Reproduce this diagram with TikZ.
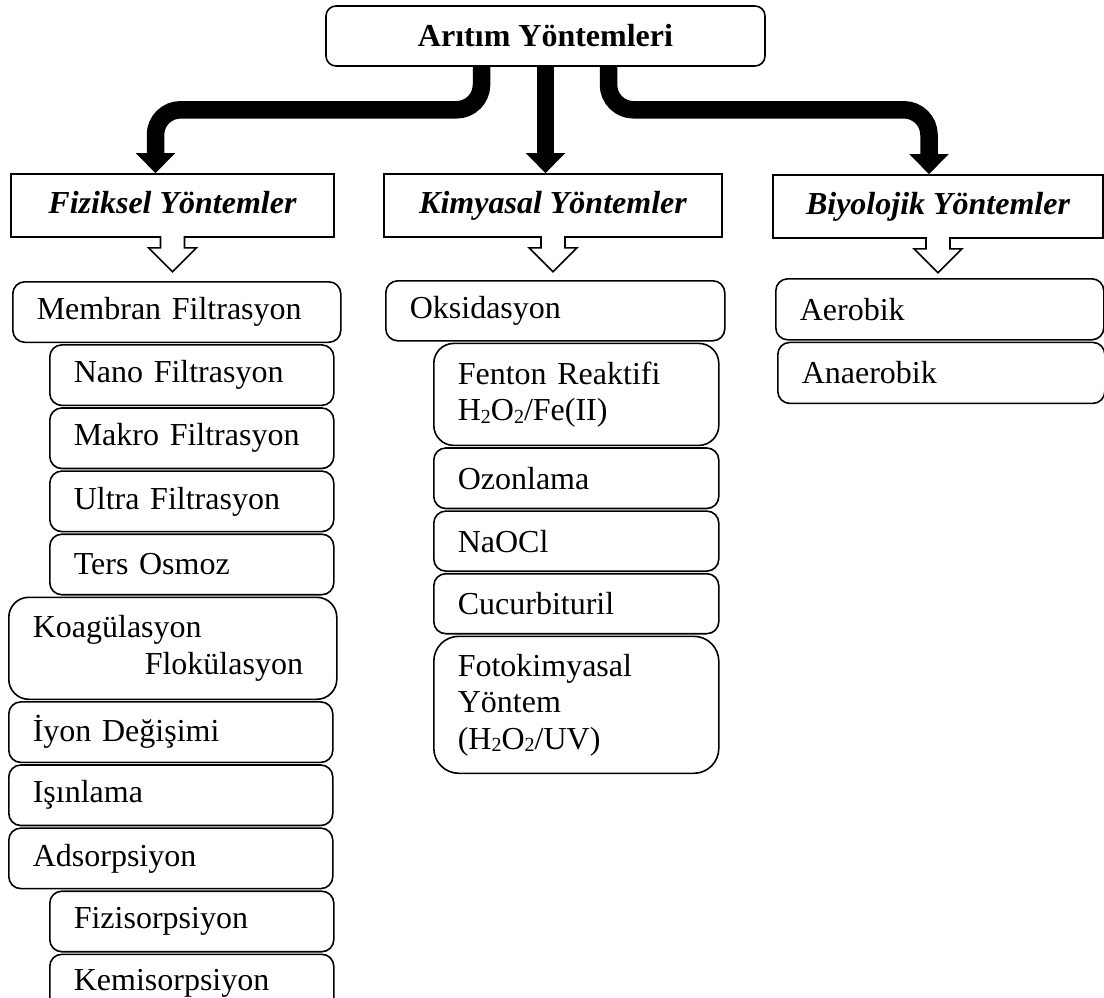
\documentclass[tikz,border=0pt]{standalone}
\usepackage{fontspec}
\setmainfont{Liberation Serif}
\usetikzlibrary{positioning, arrows.meta, shapes.arrows}

\newcommand{\boxfont}{\fontsize{32}{36.5}\selectfont}
\newcommand{\chemsub}[1]{\raisebox{-0.2ex}{\fontsize{20}{20}\selectfont #1}}

\begin{document}
\begin{tikzpicture}[
    x=1pt, y=-1pt,
    every node/.style={line width=1.6pt, font=\boxfont},
    title/.style={draw, rounded corners=10pt, minimum width=439pt, minimum height=60pt, font=\boxfont\bfseries},
    heading/.style={draw, shape=arrow box, arrow box arrows={south:34pt from border}, arrow box shaft width=24pt, arrow box head extend=12pt, minimum height=63pt, text height=22pt, text depth=7pt, font=\boxfont\bfseries\itshape},
    item/.style={draw, rounded corners=12pt, text width=#1, align=left, inner xsep=24pt, inner ysep=0pt, minimum height=60.5pt},
    item/.default=236pt,
    tall/.style={rounded corners=20pt},
    flow/.style={line width=17.5pt, rounded corners=25pt, -{Triangle[width=38pt, length=20pt]}}
]
\useasboundingbox (0,0) rectangle (1104,998);

% Top
\node[title] (top) at (545.5,36) {Arıtım Yöntemleri};

% Method groups
\node[heading, minimum width=323pt] (fiz) at (172.5,205.5) {Fiziksel Yöntemler};
\node[heading, minimum width=338pt] (kim) at (553,205.5) {Kimyasal Yöntemler};
\node[heading, minimum width=330pt] (biy) at (938,206.5) {Biyolojik Yöntemler};

% Thick arrows
\draw[flow] ([xshift=-64pt]top.south) -- ++(0,43) -| ([xshift=-17pt]fiz.north);
\draw[flow] (top.south) -- (top.south |- kim.north);
\draw[flow] ([xshift=63pt]top.south) -- ++(0,43) -| ([xshift=-9pt]biy.north);

% Fiziksel column
\node[item=280pt, anchor=north west] (membran) at (12,281) {Membran Filtrasyon};
\node[item, below=1pt of membran.south west, anchor=north west, xshift=37pt] (nano) {Nano Filtrasyon};
\node[item, below=1pt of nano] (makro) {Makro Filtrasyon};
\node[item, below=1pt of makro] (ultra) {Ultra Filtrasyon};
\node[item, below=1pt of ultra] (ters) {Ters Osmoz};
\node[item=280pt, tall, minimum height=102pt, below=1pt of ters.south west, anchor=north west, xshift=-41pt] (koag) {Koagülasyon\\\hspace*{112pt}Flokülasyon};
\node[item=276pt, below=1pt of koag.south west, anchor=north west] (iyon) {İyon Değişimi};
\node[item=276pt, below=1pt of iyon] (isin) {Işınlama};
\node[item=276pt, below=1pt of isin] (ads) {Adsorpsiyon};
\node[item, below=1pt of ads.south west, anchor=north west, xshift=41pt] (fizi) {Fizisorpsiyon};
\node[item, minimum height=57.5pt, below=1pt of fizi] (kemi) {Kemisorpsiyon};

% Kimyasal column
\node[item=291pt, minimum height=60pt, anchor=north west] (oks) at (385,280) {Oksidasyon};
\node[item=237pt, tall, minimum height=102pt, below=1pt of oks.south west, anchor=north west, xshift=48pt] (fenton) {Fenton Reaktifi\\H\chemsub{2}O\chemsub{2}/Fe(II)};
\node[item=237pt, below=1pt of fenton] (ozon) {Ozonlama};
\node[item=237pt, minimum height=60pt, below=1pt of ozon] (naocl) {NaOCl};
\node[item=237pt, minimum height=60pt, below=1pt of naocl] (cucur) {Cucurbituril};
\node[item=237pt, tall, rounded corners=25pt, minimum height=137pt, below=1pt of cucur] (foto) {Fotokimyasal\\Yöntem\\(H\chemsub{2}O\chemsub{2}/UV)};

% Biyolojik column
\node[item=280pt, minimum height=61pt, anchor=north west] (aero) at (775,278) {Aerobik};
\node[item=279pt, minimum height=61pt, below=1pt of aero.south west, anchor=north west, xshift=2pt] (anaero) {Anaerobik};

\end{tikzpicture}
\end{document}
